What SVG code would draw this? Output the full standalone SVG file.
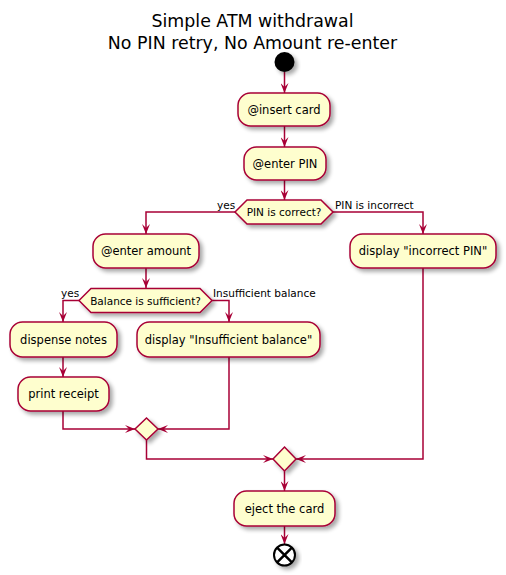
<svg xmlns="http://www.w3.org/2000/svg" width="506" height="575" viewBox="0 0 506 575">
<style>
.t{font-family:"DejaVu Sans",sans-serif;font-size:17.4px;fill:#000;text-anchor:middle}
.act{fill:#FEFECE;stroke:#A80036;stroke-width:1.5;filter:url(#sh)}
.at{font-family:"DejaVu Sans",sans-serif;font-size:11.5px;fill:#000;text-anchor:middle}
.dt{font-family:"DejaVu Sans",sans-serif;font-size:10.5px;fill:#000;text-anchor:middle}
.lb{font-family:"DejaVu Sans",sans-serif;font-size:10.5px;fill:#000}
.ln{fill:none;stroke:#A80036;stroke-width:1.5;marker-end:url(#ah)}
</style>
<defs>
<filter id="sh" x="-20%" y="-20%" width="150%" height="160%">
<feGaussianBlur in="SourceAlpha" stdDeviation="2"/>
<feOffset dx="3" dy="3" result="b"/>
<feComponentTransfer><feFuncA type="linear" slope="0.35"/></feComponentTransfer>
<feMerge><feMergeNode/><feMergeNode in="SourceGraphic"/></feMerge>
</filter>
<marker id="ah" viewBox="0 0 10 8" refX="10" refY="4" markerWidth="10" markerHeight="8" markerUnits="userSpaceOnUse" orient="auto">
<path d="M0,0 L10,4 L0,8 L4,4 Z" fill="#A80036"/>
</marker>
</defs>
<text class="t" x="252.5" y="27">Simple ATM withdrawal</text>
<text class="t" x="252.5" y="48.5">No PIN retry, No Amount re-enter</text>
<g id="connectors">
<path class="ln" d="M284.5,72 V93"/>
<path class="ln" d="M284.5,126 V147"/>
<path class="ln" d="M284.5,180 V200"/>
<path class="ln" d="M235,212 H146 V234"/>
<path class="ln" d="M333,212 H423 V234"/>
<path class="ln" d="M146,268 V288"/>
<path class="ln" d="M79,300.5 H63 V322"/>
<path class="ln" d="M212,300.5 H229 V322"/>
<path class="ln" d="M63,357 V377"/>
<path class="ln" d="M63,411 V429 H135"/>
<path class="ln" d="M229,357 V429 H158"/>
<path class="ln" d="M146.5,440 V459 H273"/>
<path class="ln" d="M423,268 V459 H296"/>
<path class="ln" d="M284.5,471 V491"/>
<path class="ln" d="M284.5,526 V544"/>
<text class="lb" x="217" y="209">yes</text>
<text class="lb" x="335" y="209">PIN is incorrect</text>
<text class="lb" x="61" y="297">yes</text>
<text class="lb" x="213" y="297">Insufficient balance</text>
</g>
<g id="start"><circle cx="284.5" cy="62" r="10" fill="#000" filter="url(#sh)"/></g>
<g id="insert_card"><rect class="act" x="238" y="93" width="92" height="33" rx="12.5"/><text class="at" x="284" y="114">@insert card</text></g>
<g id="enter_pin"><rect class="act" x="244" y="147" width="82" height="33" rx="12.5"/><text class="at" x="285" y="168">@enter PIN</text></g>
<g id="pin_correct"><polygon class="act" points="235,212 247,200 321,200 333,212 321,224 247,224"/><text class="dt" x="284" y="216">PIN is correct?</text></g>
<g id="enter_amount"><rect class="act" x="93" y="234" width="106" height="34" rx="12.5"/><text class="at" x="146" y="255">@enter amount</text></g>
<g id="incorrect_pin"><rect class="act" x="350" y="234" width="146" height="34" rx="12.5"/><text class="at" x="423" y="255">display "incorrect PIN"</text></g>
<g id="balance"><polygon class="act" points="79,300.5 91,288.5 200,288.5 212,300.5 200,312.5 91,312.5"/><text class="dt" x="145.5" y="304.5">Balance is sufficient?</text></g>
<g id="dispense"><rect class="act" x="10" y="322" width="107" height="35" rx="12.5"/><text class="at" x="63.5" y="344">dispense notes</text></g>
<g id="insufficient"><rect class="act" x="137" y="322" width="183" height="35" rx="12.5"/><text class="at" x="228.5" y="344">display "Insufficient balance"</text></g>
<g id="receipt"><rect class="act" x="18" y="377" width="91" height="34" rx="12.5"/><text class="at" x="63.5" y="398">print receipt</text></g>
<g id="merge1"><polygon class="act" points="146.5,418 158,429 146.5,440 135,429"/></g>
<g id="merge2"><polygon class="act" points="284.5,447 296,459 284.5,471 273,459"/></g>
<g id="eject"><rect class="act" x="234" y="491" width="101" height="35" rx="12.5"/><text class="at" x="284.5" y="513">eject the card</text></g>
<g id="end"><circle cx="284.5" cy="555" r="10.5" fill="#fff" stroke="#000" stroke-width="2" filter="url(#sh)"/><path d="M277.1,547.6 L291.9,562.4 M291.9,547.6 L277.1,562.4" stroke="#000" stroke-width="2.5"/></g>
</svg>
